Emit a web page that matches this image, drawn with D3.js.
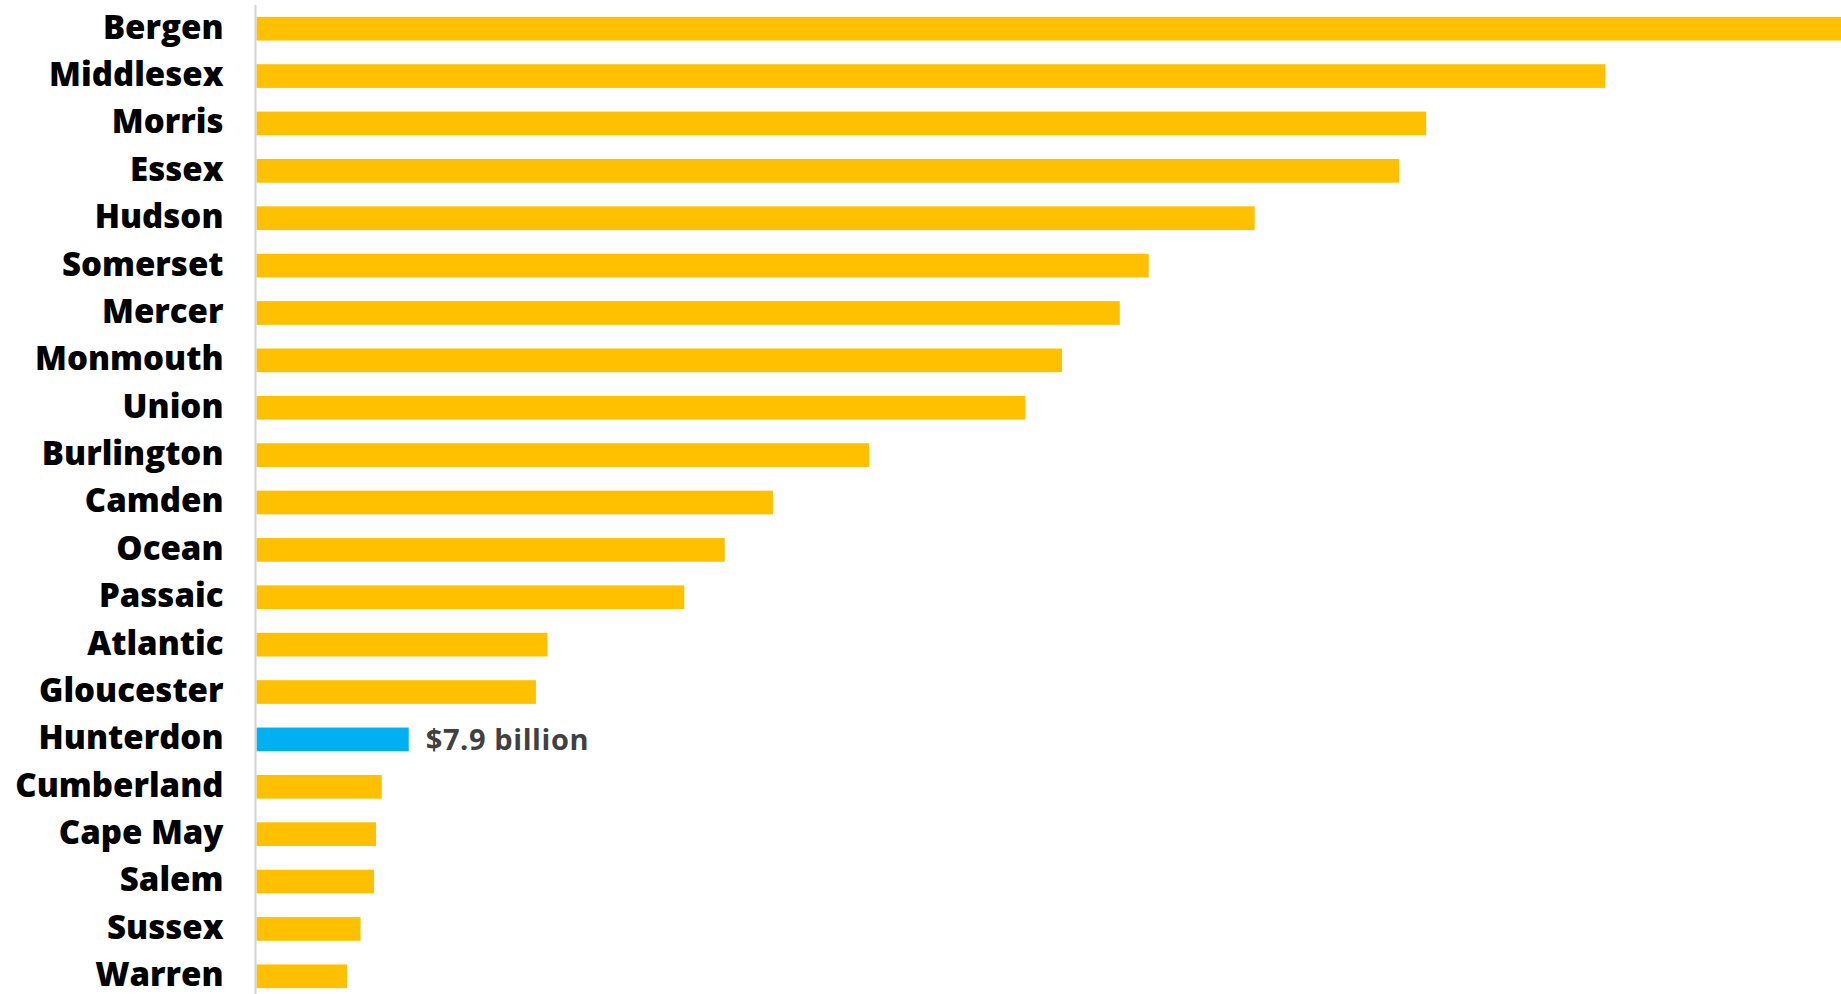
<!DOCTYPE html>
<html>
<head>
<meta charset="utf-8">
<script src="https://cdn.jsdelivr.net/npm/d3@7"></script>
<style>
  html, body { margin: 0; padding: 0; background: #fff; overflow: hidden; }
</style>
</head>
<body>
<div id="canvas"></div>
<script>
const counties = ['Bergen', 'Middlesex', 'Morris', 'Essex', 'Hudson', 'Somerset', 'Mercer',
  'Monmouth', 'Union', 'Burlington', 'Camden', 'Ocean', 'Passaic', 'Atlantic', 'Gloucester',
  'Hunterdon', 'Cumberland', 'Cape May', 'Salem', 'Sussex', 'Warren'];
// GDP, billions of dollars
const gdp = [84.0, 70.0, 60.7, 59.3, 51.8, 46.3, 44.8, 41.8, 39.9, 31.8, 26.8, 24.3, 22.2,
  15.1, 14.5, 7.9, 6.5, 6.2, 6.1, 5.4, 4.7];
const highlight = 'Hunterdon';
const highlightLabel = '$7.9 billion';

const width = 1841, height = 994;
const rows = counties.map((c, i) => ({ county: c, value: gdp[i] }));

const svg = d3.select('#canvas')
  .append('svg')
  .attr('width', width)
  .attr('height', height)
  .style('display', 'block');

const x = d3.scaleLinear()
  .domain([0, 80])
  .range([256.5, 256.5 + 80 * 19.27]);

const y = d3.scaleBand()
  .domain(counties)
  .range([5, 1000])
  .paddingInner(0.5)
  .paddingOuter(0.25);

svg.selectAll('.bar')
  .data(rows)
  .join('rect')
  .attr('class', 'bar')
  .attr('x', x(0))
  .attr('y', (d) => y(d.county))
  .attr('width', (d) => x(d.value) - x(0))
  .attr('height', y.bandwidth())
  .attr('fill', (d) => d.county === highlight ? '#00b0f0' : '#ffc000');

// left axis line with county names, no ticks
const axis = svg.append('g')
  .attr('transform', `translate(${x(0) - 1},0)`)
  .call(d3.axisLeft(y).tickSize(0).tickPadding(32));
axis.select('.domain').remove();
axis.selectAll('text')
  .attr('dy', '0.3em')
  .attr('font-family', '"Open Sans", sans-serif')
  .attr('font-weight', 800)
  .attr('font-size', '33px')
  .attr('fill', '#000');

svg.append('line')
  .attr('x1', x(0) - 1)
  .attr('x2', x(0) - 1)
  .attr('y1', 5)
  .attr('y2', height)
  .attr('stroke', '#d4d4d4')
  .attr('stroke-width', 2);

const hl = rows.find((d) => d.county === highlight);
svg.append('text')
  .attr('x', x(hl.value) + 17)
  .attr('y', y(hl.county) + y.bandwidth() / 2)
  .attr('dy', '0.35em')
  .attr('font-family', '"Open Sans", sans-serif')
  .attr('font-weight', 700)
  .attr('font-size', '29px')
  .attr('letter-spacing', '0.6px')
  .attr('fill', '#404040')
  .text(highlightLabel);
</script>
</body>
</html>
